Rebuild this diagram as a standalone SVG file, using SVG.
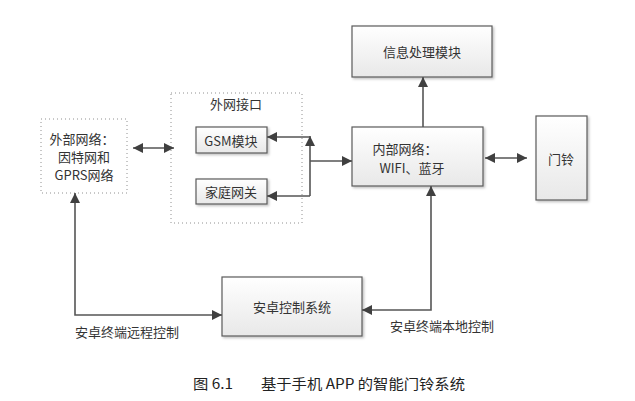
<svg xmlns="http://www.w3.org/2000/svg" width="635" height="401" viewBox="0 0 635 401">
<defs>
<linearGradient id="g" x1="0" y1="0" x2="0" y2="1"><stop offset="0" stop-color="#ffffff"/><stop offset="1" stop-color="#e8e8e8"/></linearGradient>
<filter id="sh" x="-10%" y="-10%" width="130%" height="130%"><feDropShadow dx="1.5" dy="1.5" stdDeviation="1" flood-color="#000" flood-opacity="0.25"/></filter>
<marker id="a" viewBox="0 0 10 10" refX="10" refY="5" markerWidth="10" markerHeight="10" markerUnits="userSpaceOnUse" orient="auto-start-reverse"><path d="M0,0 L10,5 L0,10 z" fill="#404040"/></marker>
</defs>
<style>
.box{fill:url(#g);stroke:#5a5a5a;stroke-width:1.2;filter:url(#sh)}
.dot{fill:none;stroke:#909090;stroke-width:1;stroke-dasharray:1 3}
.t{font-family:"Noto Sans CJK SC","Noto Sans",sans-serif;font-size:13px;fill:#333;text-anchor:middle;dominant-baseline:central}
.c{fill:none;stroke:#555;stroke-width:1.6}
.cap{font-family:"Noto Sans CJK SC","DejaVu Sans Mono",monospace;font-size:14px;fill:#222;dominant-baseline:central}
</style>
<rect width="635" height="401" fill="#fff"/>
<g id="info"><rect class="box" x="352" y="26" width="140" height="51"/><text class="t" x="422" y="51">信息处理模块</text></g>
<g id="inner"><rect class="box" x="352" y="127" width="131" height="59"/><text class="t" x="405" y="148">内部网络：</text><text class="t" x="412" y="167">WIFI、蓝牙</text></g>
<g id="door"><rect class="box" x="536" y="116" width="51" height="84"/><text class="t" x="561" y="158">门铃</text></g>
<g id="outer"><rect class="dot" x="41" y="119" width="86" height="74"/><text class="t" x="82" y="138">外部网络：</text><text class="t" x="84" y="156">因特网和</text><text class="t" x="84" y="174">GPRS网络</text></g>
<g id="iface"><rect class="dot" x="171" y="93" width="131" height="130"/><text class="t" x="236" y="103">外网接口</text></g>
<g id="gsm"><rect class="box" x="196" y="127" width="71" height="26"/><text class="t" x="231" y="140">GSM模块</text></g>
<g id="gw"><rect class="box" x="196" y="179" width="71" height="25"/><text class="t" x="231" y="191">家庭网关</text></g>
<g id="android"><rect class="box" x="222" y="277" width="140" height="59"/><text class="t" x="292" y="306">安卓控制系统</text></g>
<g id="connectors">
<path class="c" d="M423,127 V77" marker-end="url(#a)"/>
<path class="c" d="M485,158 H527" marker-start="url(#a)" marker-end="url(#a)"/>
<path class="c" d="M133,148 H174" marker-start="url(#a)" marker-end="url(#a)"/>
<path class="c" d="M310,196 V136" marker-end="url(#a)"/>
<path class="c" d="M310,137 H267" marker-end="url(#a)"/>
<path class="c" d="M310,196 H267" marker-end="url(#a)"/>
<path class="c" d="M310,161 H352" marker-end="url(#a)"/>
<path class="c" d="M222,315 H75 V193" marker-start="url(#a)" marker-end="url(#a)"/>
<path class="c" d="M362,310 H431 V186" marker-start="url(#a)" marker-end="url(#a)"/>
</g>
<text class="t" x="127" y="331">安卓终端远程控制</text>
<text class="t" x="442" y="325">安卓终端本地控制</text>
<text class="cap" x="193" y="383" textLength="40" lengthAdjust="spacingAndGlyphs">图 6.1</text>
<text class="cap" x="261" y="383" textLength="204" lengthAdjust="spacingAndGlyphs">基于手机 APP 的智能门铃系统</text>
</svg>
